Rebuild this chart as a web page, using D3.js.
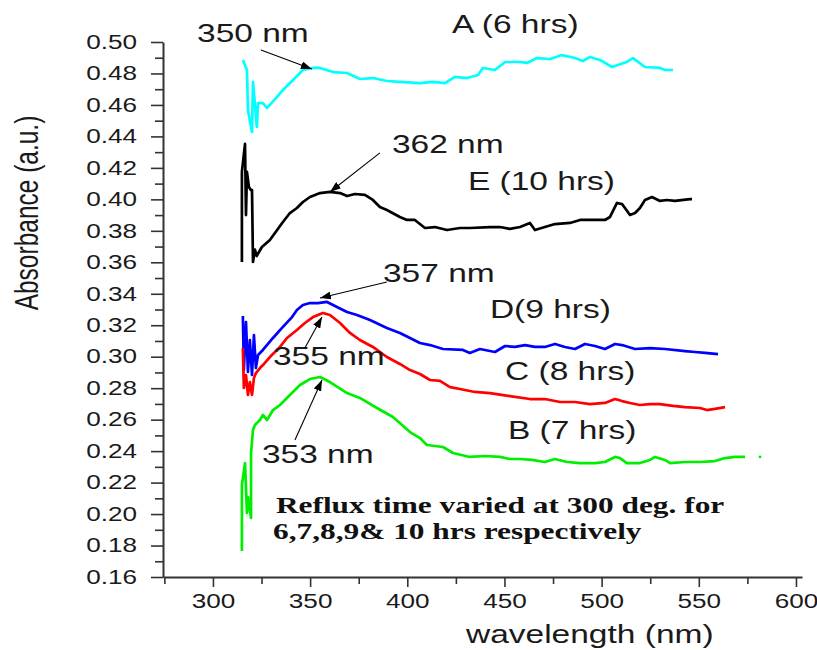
<!DOCTYPE html>
<html>
<head>
<meta charset="utf-8">
<script src="https://cdn.jsdelivr.net/npm/d3@7"></script>
<style>
  body { margin: 0; background: #fff; }
  svg { display: block; }
  .lbl { font-family: "Liberation Sans", Arial, sans-serif; fill: #1a1a1a; }
  .note { font-family: "Liberation Serif", "Times New Roman", serif; font-weight: bold; fill: #111; }
</style>
</head>
<body>
<svg></svg>
<script>
// [wavelength nm, absorbance]
var seriesA = [[315.4,.4886],[317.5,.4822],[318.0,.4568],[320.1,.4428],[320.6,.4746],[322.6,.4460],[323.2,.4612],
  [325.7,.4612],[327.8,.4581],[332.9,.4650],[336.0,.4695],[341.2,.4758],[346.3,.4822],[351.5,.4835],[355.1,.4835],
  [361.8,.4809],[369.0,.4803],[375.6,.4765],[382.3,.4771],[389.5,.4752],[396.2,.4746],[406.5,.4739],[413.2,.4746],
  [419.4,.4739],[424.5,.4778],[430.7,.4771],[436.4,.4790],[438.9,.4835],[445.1,.4822],[450.3,.4873],[458.0,.4873],
  [461.6,.4867],[466.7,.4898],[473.4,.4892],[479.6,.4917],[486.3,.4898],[490.4,.4879],[494.0,.4905],[499.1,.4886],
  [505.3,.4841],[513.0,.4873],[516.1,.4898],[522.3,.4841],[530.0,.4835],[532.6,.4822],[536.7,.4822]];

var seriesB = [[314.9,.1765],[314.9,.2185],[316.5,.2324],[317.5,.2007],[318.0,.2108],[319.6,.1975],[319.6,.2388],
  [320.6,.2534],[321.6,.2566],[324.2,.2598],[325.7,.2630],[327.8,.2598],[330.9,.2661],[334.5,.2693],[339.6,.2757],
  [344.8,.2820],[349.9,.2858],[355.1,.2871],[360.2,.2839],[369.0,.2769],[375.6,.2738],[384.4,.2674],[392.6,.2617],
  [401.4,.2521],[406.5,.2483],[410.1,.2439],[418.4,.2426],[423.5,.2388],[432.2,.2363],[440.0,.2369],[447.7,.2363],
  [452.8,.2350],[458.0,.2350],[464.2,.2344],[470.8,.2331],[476.0,.2350],[482.2,.2331],[488.9,.2324],[496.6,.2324],
  [501.7,.2331],[506.9,.2363],[509.4,.2356],[513.0,.2324],[519.7,.2324],[524.9,.2344],[527.4,.2363],[532.6,.2344],
  [535.2,.2324],[542.9,.2331],[550.6,.2331],[558.3,.2337],[563.5,.2356],[568.6,.2363],[573.8,.2363]];
var seriesBDot = [[581.5,.2363]];

var seriesC = [[315.4,.3055],[315.9,.2801],[317.0,.2884],[318.0,.2757],[319.0,.2839],[320.1,.2757],[321.1,.2865],
  [322.1,.2896],[324.2,.2928],[325.7,.2947],[329.3,.2998],[334.5,.3062],[338.1,.3119],[343.2,.3170],[347.3,.3214],
  [351.5,.3252],[356.6,.3278],[360.2,.3265],[365.4,.3214],[370.5,.3151],[375.6,.3106],[382.3,.3062],[389.5,.2998],
  [396.2,.2954],[401.4,.2915],[406.5,.2890],[411.7,.2852],[416.8,.2846],[422.0,.2807],[427.1,.2795],[434.8,.2776],
  [442.5,.2769],[452.8,.2750],[463.1,.2731],[470.8,.2731],[478.6,.2712],[486.3,.2712],[494.0,.2699],[501.7,.2706],
  [506.9,.2731],[510.5,.2718],[514.6,.2706],[519.7,.2693],[524.9,.2699],[530.0,.2699],[536.7,.2687],[542.9,.2680],
  [550.6,.2674],[554.2,.2661],[558.3,.2668],[563.5,.2680]];

var seriesD = [[315.4,.3259],[315.9,.2915],[317.0,.3220],[318.0,.2903],[319.0,.3106],[320.1,.2884],[321.1,.3138],
  [322.1,.2928],[323.2,.3011],[325.7,.3043],[330.9,.3119],[336.0,.3189],[340.7,.3252],[343.2,.3297],[346.3,.3329],
  [349.9,.3341],[354.0,.3341],[358.7,.3348],[363.8,.3316],[369.0,.3284],[374.1,.3265],[380.8,.3233],[389.5,.3182],
  [396.2,.3151],[401.4,.3119],[406.5,.3087],[411.7,.3074],[418.4,.3049],[428.6,.3043],[432.2,.3024],[437.4,.3049],
  [445.1,.3030],[450.3,.3068],[455.4,.3062],[460.6,.3074],[465.7,.3062],[470.8,.3062],[476.0,.3081],[481.1,.3062],
  [486.3,.3049],[491.4,.3081],[496.6,.3068],[501.7,.3049],[506.9,.3081],[510.5,.3074],[517.2,.3049],[524.9,.3055],
  [532.6,.3049],[542.9,.3036],[548.0,.3030],[553.2,.3024],[559.9,.3017]];

var seriesE = [[314.9,.3602],[314.9,.4174],[316.5,.4352],[317.0,.3900],[317.5,.4174],[318.5,.4079],[319.5,.4059],
  [320.1,.4059],[320.6,.3602],[321.6,.3680],[322.5,.3640],[325.2,.3697],[329.3,.3742],[331.9,.3786],[336.0,.3856],
  [339.6,.3913],[343.2,.3945],[346.3,.3983],[349.9,.4015],[355.1,.4040],[360.2,.4047],[365.4,.4040],[369.0,.4021],
  [373.1,.4034],[378.2,.4028],[382.3,.3996],[385.9,.3951],[389.5,.3932],[396.2,.3888],[399.8,.3869],[403.9,.3869],
  [409.1,.3818],[414.2,.3824],[420.4,.3805],[427.1,.3818],[432.2,.3818],[442.5,.3824],[447.7,.3824],[452.8,.3812],
  [458.0,.3824],[463.1,.3850],[465.7,.3805],[470.8,.3824],[476.0,.3843],[483.7,.3850],[488.9,.3869],[501.7,.3869],
  [504.3,.3888],[507.9,.3977],[510.5,.3970],[514.6,.3901],[517.2,.3913],[519.7,.3945],[522.3,.3996],[525.9,.4015],
  [530.0,.3990],[533.6,.3996],[537.7,.3990],[545.5,.4002],[546.5,.4002]];

var xTicks = [300, 350, 400, 450, 500, 550, 600];
var xMinor = [275, 325, 375, 425, 475, 525, 575];
var yTicks = [0.16, 0.18, 0.20, 0.22, 0.24, 0.26, 0.28, 0.30, 0.32, 0.34, 0.36, 0.38, 0.40, 0.42, 0.44, 0.46, 0.48, 0.50];
var yMinor = [0.17, 0.19, 0.21, 0.23, 0.25, 0.27, 0.29, 0.31, 0.33, 0.35, 0.37, 0.39, 0.41, 0.43, 0.45, 0.47, 0.49];

// series labels and peak labels, anchored in data units
var seriesLabels = [
  {t: "A (6 hrs)", x: 423.0, y: 0.5057},
  {t: "E (10 hrs)", x: 431.2, y: 0.4059},
  {t: "D(9 hrs)", x: 442.5, y: 0.3246},
  {t: "C (8 hrs)", x: 450.3, y: 0.2852},
  {t: "B (7 hrs)", x: 451.8, y: 0.2477}
];
var peakLabels = [
  {t: "350 nm", x: 291.8, y: 0.5000, ax: 324.7, ay: 0.4949, bx: 350.9, by: 0.4828},
  {t: "362 nm", x: 392.1, y: 0.4295, ax: 385.9, ay: 0.4295, bx: 360.2, by: 0.4047},
  {t: "357 nm", x: 387.5, y: 0.3475, ax: 389.5, ay: 0.3475, bx: 355.1, by: 0.3373},
  {t: "355 nm", x: 330.9, y: 0.2947, ax: 347.3, ay: 0.3055, bx: 356.1, by: 0.3252},
  {t: "353 nm", x: 325.2, y: 0.2324, ax: 342.2, ay: 0.2471, bx: 356.1, by: 0.2852}
];

var svgWidth = 817, svgHeight = 650;
var sx = 1.34; // the original is stretched sideways
var svg = d3.select("svg").attr("width", svgWidth).attr("height", svgHeight);

var x = d3.scaleLinear().domain([274.3, 603.1]).range([163, 802]);
var y = d3.scaleLinear().domain([0.16, 0.50]).range([577, 42]);

svg.append("defs").append("marker")
  .attr("id", "arr").attr("markerUnits", "userSpaceOnUse")
  .attr("markerWidth", 11).attr("markerHeight", 8)
  .attr("refX", 11).attr("refY", 4).attr("orient", "auto")
  .append("path").attr("d", "M0,0 L11,4 L0,8 Z").attr("fill", "#000");

// axes
function styleAxis(g) {
  g.selectAll("path.domain").attr("stroke", "#333").attr("stroke-width", 2);
  g.selectAll(".tick line").attr("stroke", "#333").attr("stroke-width", 1.6);
}
var gx = svg.append("g").attr("transform", "translate(0,577)")
  .call(d3.axisBottom(x).tickValues(xTicks).tickSize(10).tickSizeOuter(0).tickFormat(d3.format("d")));
gx.call(styleAxis);
gx.selectAll(".tick text").attr("class", "lbl").attr("y", 0).attr("dy", 0)
  .attr("transform", "translate(0,31) scale(" + sx + ",1)")
  .attr("font-size", 19.5).attr("fill", "#1a1a1a");
var gxm = svg.append("g").attr("transform", "translate(0,577)")
  .call(d3.axisBottom(x).tickValues(xMinor).tickSize(7).tickSizeOuter(0).tickFormat(""));
gxm.call(styleAxis);
gxm.select("path.domain").remove();

var gy = svg.append("g").attr("transform", "translate(163,0)")
  .call(d3.axisLeft(y).tickValues(yTicks).tickSize(12).tickSizeOuter(0).tickFormat(d3.format(".2f")));
gy.call(styleAxis);
gy.selectAll(".tick text").attr("class", "lbl").attr("x", 0)
  .attr("transform", "translate(-26,0) scale(" + sx + ",1)")
  .attr("font-size", 19.5).attr("fill", "#1a1a1a");
var gym = svg.append("g").attr("transform", "translate(163,0)")
  .call(d3.axisLeft(y).tickValues(yMinor).tickSize(8).tickSizeOuter(0).tickFormat(""));
gym.call(styleAxis);
gym.select("path.domain").remove();

// curves
var line = d3.line().x(function (d) { return x(d[0]); }).y(function (d) { return y(d[1]); });
var curves = [
  {d: seriesA, c: "#00ffff"},
  {d: seriesE, c: "#000000"},
  {d: seriesD, c: "#0000ff"},
  {d: seriesC, c: "#ff0000"},
  {d: seriesB, c: "#00ee00"}
];
svg.selectAll("path.curve").data(curves).enter().append("path")
  .attr("class", "curve")
  .attr("d", function (d) { return line(d.d); })
  .attr("fill", "none")
  .attr("stroke", function (d) { return d.c; })
  .attr("stroke-width", 2.7)
  .attr("stroke-linejoin", "round");
svg.selectAll("circle.dot").data(seriesBDot).enter().append("circle")
  .attr("cx", function (d) { return x(d[0]); }).attr("cy", function (d) { return y(d[1]); })
  .attr("r", 1.4).attr("fill", "#00ee00");

// text helper: stretched like the original
function addText(str, px, py, size, cls, anchor) {
  return svg.append("text").attr("class", cls || "lbl")
    .attr("transform", "translate(" + px + "," + py + ") scale(" + sx + ",1)")
    .attr("font-size", size).attr("text-anchor", anchor || "start").text(str);
}

seriesLabels.forEach(function (s) { addText(s.t, x(s.x), y(s.y), 25); });
peakLabels.forEach(function (p) {
  addText(p.t, x(p.x), y(p.y), 25);
  svg.append("line")
    .attr("x1", x(p.ax)).attr("y1", y(p.ay)).attr("x2", x(p.bx)).attr("y2", y(p.by))
    .attr("stroke", "#000").attr("stroke-width", 1.1).attr("marker-end", "url(#arr)");
});

addText("Reflux time varied at 300 deg. for", x(332.4), y(0.2007), 23.4, "note");
addText("6,7,8,9& 10 hrs respectively", x(330.9), y(0.1842), 23.4, "note");

// axis titles
addText("wavelength (nm)", 466, 643, 25);
svg.append("text").attr("class", "lbl")
  .attr("transform", "translate(38,213) scale(" + sx + ",1) rotate(-90)")
  .attr("font-size", 24.5).attr("text-anchor", "middle").text("Absorbance (a.u.)");
</script>
</body>
</html>
